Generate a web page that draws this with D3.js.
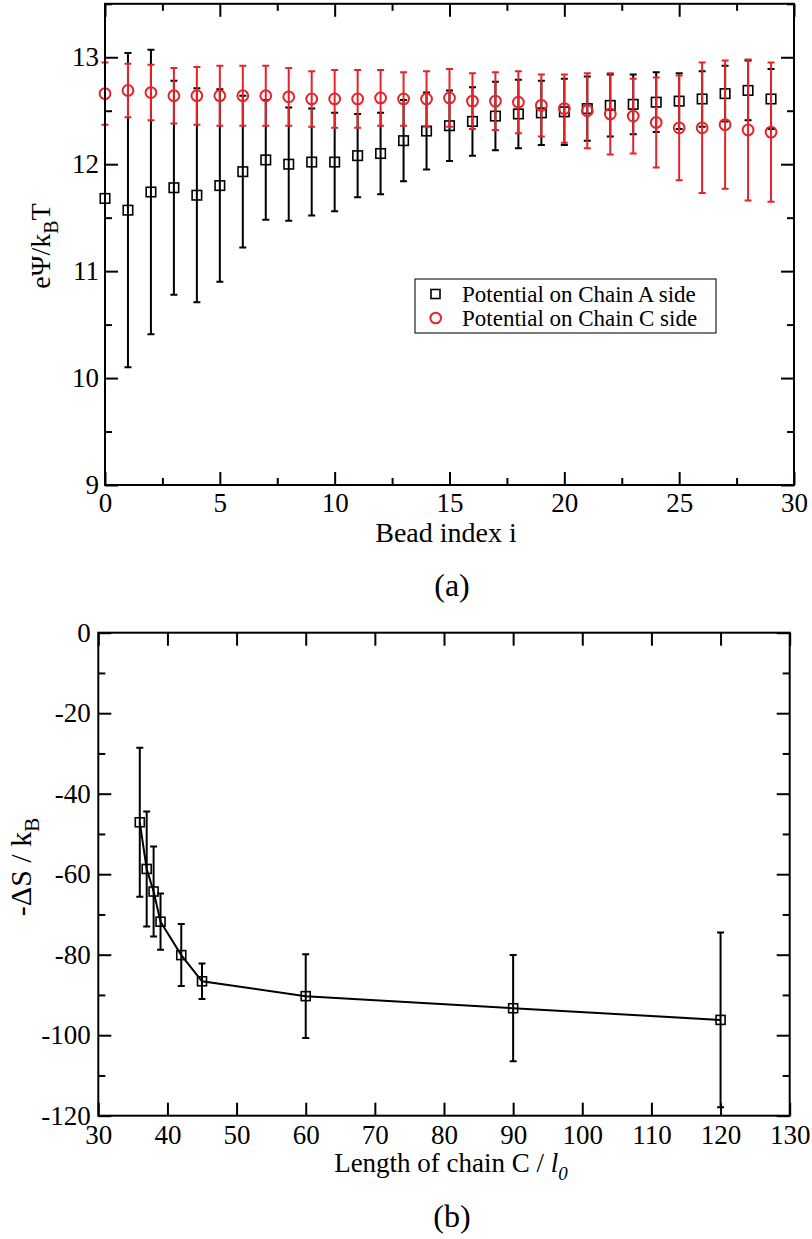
<!DOCTYPE html>
<html>
<head>
<meta charset="utf-8">
<script src="https://cdn.jsdelivr.net/npm/d3@7"></script>
<style>
  body { margin: 0; background: #fff; }
</style>
</head>
<body>
<svg id="fig"></svg>
<script>
// panel (a): potential along the chain
beadIndex = [0,1,2,3,4,5,6,7,8,9,10,11,12,13,14,15,16,17,18,19,20,21,22,23,24,25,26,27,28,29]
chainA    = [11.68,11.57,11.74,11.78,11.71,11.80,11.93,12.04,12.00,12.02,12.02,12.08,12.10,12.22,12.31,
             12.36,12.40,12.45,12.47,12.48,12.49,12.52,12.55,12.56,12.58,12.59,12.61,12.66,12.69,12.61]
chainAErr = [0,1.47,1.33,1.00,1.00,0.90,0.71,0.56,0.53,0.50,0.46,0.39,0.38,0.38,0.36,
             0.33,0.32,0.32,0.32,0.30,0.31,0.30,0.29,0.28,0.28,0.26,0.26,0.26,0.28,0.28]
chainC    = [12.66,12.69,12.67,12.64,12.64,12.64,12.64,12.64,12.63,12.61,12.61,12.61,12.62,12.61,12.61,
             12.62,12.59,12.59,12.58,12.55,12.52,12.50,12.47,12.45,12.39,12.34,12.34,12.37,12.32,12.30]
chainCErr = [0.29,0.25,0.26,0.26,0.27,0.28,0.28,0.28,0.27,0.26,0.27,0.27,0.26,0.25,0.26,
             0.27,0.26,0.27,0.29,0.29,0.32,0.35,0.38,0.35,0.42,0.49,0.61,0.60,0.66,0.65]
legendLabels = ['Potential on Chain A side', 'Potential on Chain C side']

// panel (b): entropy vs chain length
chainLength = [36, 37, 38, 39, 42, 45, 60, 90, 120]
entropy     = [-47.1, -58.7, -64.3, -71.8, -80.1, -86.6, -90.3, -93.3, -96.2]
entropyErr  = [18.5, 14.3, 11.2, 7.0, 7.7, 4.4, 10.4, 13.2, 21.7]

RED = '#e3242b'
FONT = '"Liberation Serif", "Times New Roman", Times, serif'
W = 812, H = 1239

svg = d3.select('#fig').attr('width', W).attr('height', H)
  .attr('font-family', FONT)
svg.append('rect').attr('width', W).attr('height', H).attr('fill', '#fff')

function label(g, x, y, size) {
  return g.append('text').attr('x', x).attr('y', y)
    .attr('font-family', FONT).attr('font-size', size).attr('fill', '#000')
}

// plain hyphen minus, like the original figure
fmt = function(d) { return String(d) }

// ticks point inward on all four sides, labels only bottom/left
function frame(g, x, y, xMajor, xMinor, yMajor, yMinor, padX, padY) {
  var w = x.range()[1] - x.range()[0], h = y.range()[0] - y.range()[1]
  var x0 = x.range()[0], y0 = y.range()[1]
  var specs = [
    [d3.axisBottom(x).tickValues(xMajor).tickSize(-13).tickPadding(padX).tickFormat(fmt), `translate(0,${y0 + h})`],
    [d3.axisBottom(x).tickValues(xMinor).tickSize(-7).tickFormat(''), `translate(0,${y0 + h})`],
    [d3.axisTop(x).tickValues(xMajor).tickSize(-13).tickFormat(''), `translate(0,${y0})`],
    [d3.axisTop(x).tickValues(xMinor).tickSize(-7).tickFormat(''), `translate(0,${y0})`],
    [d3.axisLeft(y).tickValues(yMajor).tickSize(-13).tickPadding(padY).tickFormat(fmt), `translate(${x0},0)`],
    [d3.axisLeft(y).tickValues(yMinor).tickSize(-7).tickFormat(''), `translate(${x0},0)`],
    [d3.axisRight(y).tickValues(yMajor).tickSize(-13).tickFormat(''), `translate(${x0 + w},0)`],
    [d3.axisRight(y).tickValues(yMinor).tickSize(-7).tickFormat(''), `translate(${x0 + w},0)`]
  ]
  specs.forEach(function(s) {
    var a = g.append('g').attr('transform', s[1]).call(s[0].tickSizeOuter(0))
    a.attr('font-family', FONT).attr('font-size', 27)
    a.select('.domain').remove()
    a.selectAll('line').attr('stroke', '#000').attr('stroke-width', 2)
    a.selectAll('text').attr('font-family', FONT).attr('font-size', 27).attr('fill', '#000')
  })
  g.append('rect').attr('x', x0).attr('y', y0).attr('width', w).attr('height', h)
   .attr('fill', 'none').attr('stroke', '#000').attr('stroke-width', 2)
}

function errorBars(g, xs, ys, es, x, y, color) {
  var cap = 3.5
  var pts = xs.map(function(d, i) { return { x: d, y: ys[i], e: es[i] } })
                .filter(function(p) { return p.e > 0 })
  g.selectAll(null).data(pts).enter().append('path')
   .attr('d', function(p) {
     var px = x(p.x), top = y(p.y + p.e), bot = y(p.y - p.e)
     return `M${px},${top}V${bot}M${px - cap},${top}H${px + cap}M${px - cap},${bot}H${px + cap}`
   })
   .attr('fill', 'none').attr('stroke', color).attr('stroke-width', 2)
}

function squares(g, xs, ys, x, y, size) {
  g.selectAll(null).data(xs).enter().append('rect')
   .attr('x', function(d) { return x(d) - size / 2 })
   .attr('y', function(d, i) { return y(ys[i]) - size / 2 })
   .attr('width', size).attr('height', size)
   .attr('fill', 'none').attr('stroke', '#000').attr('stroke-width', 1.6)
}

// ---------- panel (a)
xa = d3.scaleLinear().domain([0, 30]).range([105, 794])
ya = d3.scaleLinear().domain([9, 13.5]).range([485, 3.8])
ga = svg.append('g')

errorBars(ga, beadIndex, chainA, chainAErr, xa, ya, '#000')
squares(ga, beadIndex, chainA, xa, ya, 9.5)
errorBars(ga, beadIndex, chainC, chainCErr, xa, ya, RED)
ga.selectAll(null).data(beadIndex).enter().append('circle')
  .attr('cx', function(d) { return xa(d) })
  .attr('cy', function(d, i) { return ya(chainC[i]) })
  .attr('r', 5.4)
  .attr('fill', 'none').attr('stroke', RED).attr('stroke-width', 2)

frame(ga, xa, ya, [0,5,10,15,20,25,30], [2.5,7.5,12.5,17.5,22.5,27.5],
      [9,10,11,12,13], [9.5,10.5,11.5,12.5,13.5], 8, 6)

// legend
leg = ga.append('g')
leg.append('rect').attr('x', 415).attr('y', 279).attr('width', 301).attr('height', 54)
   .attr('fill', '#fff').attr('stroke', '#222').attr('stroke-width', 1.2)
leg.append('rect').attr('x', 431).attr('y', 289.5).attr('width', 9).attr('height', 9)
   .attr('fill', 'none').attr('stroke', '#000').attr('stroke-width', 1.6)
leg.append('circle').attr('cx', 435.7).attr('cy', 318).attr('r', 5.3)
   .attr('fill', 'none').attr('stroke', RED).attr('stroke-width', 2)
legendLabels.forEach(function(d, i) {
  label(leg, 462, 302 + i * 24, 23).text(d)
})

label(ga, 446, 542, 28).attr('text-anchor', 'middle').text('Bead index i')

ylab = label(ga, 0, 0, 28).attr('transform', 'translate(50,246) rotate(-90)')
  .attr('text-anchor', 'middle')
ylab.append('tspan').text('eΨ/k')
ylab.append('tspan').attr('dy', 8).attr('font-size', 20).text('B')
ylab.append('tspan').attr('dy', -8).text('T')

label(svg, 452, 596, 32).attr('text-anchor', 'middle').text('(a)')

// ---------- panel (b)
xb = d3.scaleLinear().domain([30, 130]).range([98.3, 789.7])
yb = d3.scaleLinear().domain([-120, 0]).range([1115.7, 632.7])
gb = svg.append('g')

errorBars(gb, chainLength, entropy, entropyErr, xb, yb, '#000')
gb.append('path')
  .datum(chainLength)
  .attr('d', d3.line().x(function(d) { return xb(d) }).y(function(d, i) { return yb(entropy[i]) }))
  .attr('fill', 'none').attr('stroke', '#000').attr('stroke-width', 2)
squares(gb, chainLength, entropy, xb, yb, 9)

frame(gb, xb, yb, [30,40,50,60,70,80,90,100,110,120,130], [],
      [-120,-100,-80,-60,-40,-20,0], [-110,-90,-70,-50,-30,-10], 9, 7.5)

xlab = label(gb, 451, 1172, 27).attr('text-anchor', 'middle')
xlab.append('tspan').text('Length of chain C / ')
xlab.append('tspan').attr('font-style', 'italic').text('l')
xlab.append('tspan').attr('font-style', 'italic').attr('font-size', 19).attr('dy', 8).text('0')

ylab2 = label(gb, 0, 0, 30).attr('transform', 'translate(31,867) rotate(-90)')
  .attr('text-anchor', 'middle')
ylab2.append('tspan').text('-ΔS / k')
ylab2.append('tspan').attr('dy', 8).attr('font-size', 21).text('B')

label(svg, 452, 1227, 32).attr('text-anchor', 'middle').text('(b)')
</script>
</body>
</html>
